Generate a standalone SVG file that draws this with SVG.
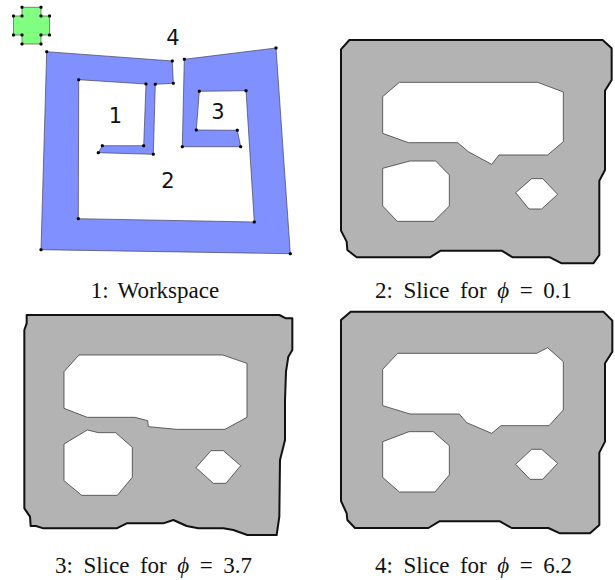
<svg xmlns="http://www.w3.org/2000/svg" width="615" height="580" viewBox="0 0 615 580">
<style>
.cap{font-family:"Liberation Serif",serif;font-size:23px;fill:#111;text-anchor:middle;word-spacing:3.500px}
.sl{word-spacing:4.800px}
.ph{font-style:italic}
.num{font-family:"DejaVu Sans",sans-serif;font-size:21px;fill:#111;text-anchor:middle}
.out{fill:#b3b3b3;stroke:#111;stroke-width:6;stroke-linejoin:round}
.hole{fill:#fff;stroke:#444;stroke-width:2.500}
.v{fill:#000}
</style>
<defs><rect id="d" class="v" x="-1.500" y="-1.500" width="3" height="3" rx="1"/></defs>
<rect width="615" height="580" fill="#fff"/>
<g id="robot">
<path d="M22 7.300H41V16H49.500V35H41V44H22V35H13.500V16H22Z" fill="#80ff80" stroke="#555" stroke-width="0.700"/>
<use href="#d" x="22" y="7.300"/><use href="#d" x="41" y="7.300"/><use href="#d" x="41" y="16"/><use href="#d" x="49.500" y="16"/><use href="#d" x="49.500" y="35"/><use href="#d" x="41" y="35"/><use href="#d" x="41" y="44"/><use href="#d" x="22" y="44"/><use href="#d" x="22" y="35"/><use href="#d" x="13.500" y="35"/><use href="#d" x="13.500" y="16"/><use href="#d" x="22" y="16"/>
</g>
<g id="workspace">
<path d="M46.700 51.700L172.300 61L173.300 83.300L155.300 84.300L153.300 154.300L98.300 152.700L102.300 145.700L143.700 145.700L146 84L78.700 79.700L78.300 218.700L254.300 222L246 90.700L199.300 91.300L196.300 130L237.300 130.300L240.700 146.700L182.300 146.700L184.300 59.300L276 48L290.300 253.700L41 249.700Z" fill="#8090ff" stroke="#445" stroke-width="0.700"/>
<g>
<use href="#d" x="46.700" y="51.700"/><use href="#d" x="172.300" y="61"/><use href="#d" x="173.300" y="83.300"/><use href="#d" x="155.300" y="84.300"/><use href="#d" x="153.300" y="154.300"/><use href="#d" x="98.300" y="152.700"/><use href="#d" x="102.300" y="145.700"/><use href="#d" x="143.700" y="145.700"/><use href="#d" x="146" y="84"/><use href="#d" x="78.700" y="79.700"/><use href="#d" x="78.300" y="218.700"/><use href="#d" x="254.300" y="222"/><use href="#d" x="246" y="90.700"/><use href="#d" x="199.300" y="91.300"/><use href="#d" x="196.300" y="130"/><use href="#d" x="237.300" y="130.300"/><use href="#d" x="240.700" y="146.700"/><use href="#d" x="182.300" y="146.700"/><use href="#d" x="184.300" y="59.300"/><use href="#d" x="276" y="48"/><use href="#d" x="290.300" y="253.700"/><use href="#d" x="41" y="249.700"/>
</g>
<text class="num" x="115.500" y="122.700">1</text><text class="num" x="168" y="188">2</text><text class="num" x="218" y="119">3</text><text class="num" x="173" y="45">4</text>
</g>
<text class="cap" x="155" y="298">1: Workspace</text>
<g id="slice-2">
<g transform="translate(310 20) scale(.33333)">
<path class="out" d="M118 60H878L905 85V180L885 212V450L868 482V705L850 730H755L720 712H608L575 692H392L360 712H140L112 690L110 665L93 632V88Z"/>
<path class="hole" d="M268 187H683L760 216V365L713 405H567L545 433L475 395L443 368H295L218 340V230Z"/>
<path class="hole" d="M218 445L300 423H377L418 465V558L372 604H262L218 558Z"/>
<path class="hole" d="M617 518L665 476H698L743 523L695 567H657Z"/>
</g>
<text class="cap sl" x="473.500" y="298">2: Slice for <tspan class="ph">ϕ</tspan> = 0.1</text>
</g>
<g id="slice-3">
<g transform="translate(0 300) scale(.33333)">
<path class="out" d="M80 45H838L858 55H877V150L865 170L858 215L855 300V420L840 480L838 650L830 705H742L700 690L670 685H595L560 678L520 660L490 670H380L350 685H130L108 678H92L90 650L73 625V90L80 70Z"/>
<path class="hole" d="M237 165H668L741 190V352L675 388H530L445 380L443 362L405 352H262L192 325V215Z"/>
<path class="hole" d="M192 432L262 390L295 398H347L397 442V532L352 586H245L192 542Z"/>
<path class="hole" d="M588 503L633 452H670L722 497L678 550H640Z"/>
</g>
<text class="cap sl" x="153.500" y="572.500">3: Slice for <tspan class="ph">ϕ</tspan> = 3.7</text>
</g>
<g id="slice-4">
<g transform="translate(310 300) scale(.33333)">
<path class="out" d="M122 35H880L907 62V155L885 190V425L868 458V675L840 700H750L715 684H605L570 664H388L355 684H135L112 660L110 640L93 603V60Z"/>
<path class="hole" d="M263 160H680L713 143L760 185V330L717 377H573L545 400L470 368L448 342H300L218 317V208Z"/>
<path class="hole" d="M218 425L297 395H370L418 437V525L375 576H268L218 532Z"/>
<path class="hole" d="M617 493L665 448H695L743 490L698 538H660Z"/>
</g>
<text class="cap sl" x="473.500" y="572.500">4: Slice for <tspan class="ph">ϕ</tspan> = 6.2</text>
</g>
</svg>
